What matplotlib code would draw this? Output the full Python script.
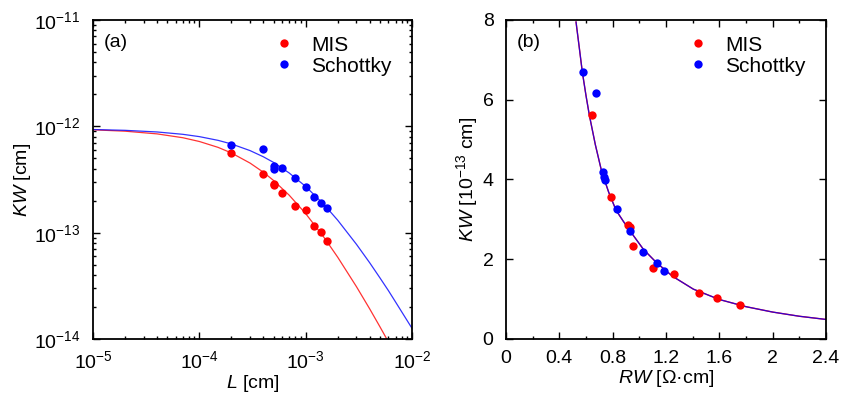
from matplotlib import pyplot as plt
from matplotlib import ticker
import numpy as np

plt.rcParams['font.family'] = ['Liberation Sans', 'DejaVu Sans']
plt.rcParams['mathtext.fontset'] = 'custom'
plt.rcParams['mathtext.rm'] = 'Liberation Sans'
plt.rcParams['mathtext.it'] = 'Liberation Sans:italic'
plt.rcParams['axes.unicode_minus'] = False
plt.rcParams['font.size'] = 14

# measured points (KW in units of 1e-13 cm)
L_mis = [2e-4, 4e-4, 5e-4, 5e-4, 6e-4, 8e-4, 1e-3, 1.2e-3, 1.4e-3, 1.6e-3]
kw_mis = [5.62, 3.57, 2.86, 2.81, 2.34, 1.78, 1.62, 1.16, 1.02, 0.84]
rw_mis = [0.643, 0.785, 0.918, 0.930, 0.950, 1.105, 1.26, 1.45, 1.585, 1.757]

L_sch = [2e-4, 4e-4, 5e-4, 6e-4, 5e-4, 8e-4, 1e-3, 1.2e-3, 1.4e-3, 1.6e-3]
kw_sch = [6.70, 6.16, 4.19, 4.07, 3.98, 3.25, 2.71, 2.17, 1.90, 1.70]
rw_sch = [0.575, 0.673, 0.725, 0.737, 0.745, 0.830, 0.930, 1.025, 1.130, 1.185]

# fitted curves
L_fit = [1e-5, 2e-5, 4e-5, 7e-5, 1e-4, 1.5e-4, 2e-4, 3e-4, 4e-4, 5e-4,
         7e-4, 1e-3, 1.5e-3, 2e-3, 3e-3, 4e-3, 5e-3, 6e-3, 7e-3, 1e-2]
kw_fit_mis = [9.27, 9.00, 8.49, 7.81, 7.20, 6.34, 5.62, 4.51, 3.70, 3.09,
              2.25, 1.51, 0.892, 0.588, 0.311, 0.192, 0.130, 0.0938, 0.070, 0.035]
kw_fit_sch = [9.33, 9.17, 8.85, 8.41, 8.00, 7.38, 6.83, 5.91, 5.17, 4.57,
              3.64, 2.72, 1.82, 1.31, 0.778, 0.521, 0.375, 0.285, 0.223, 0.126]

rw_fit = [0.525, 0.55, 0.572, 0.6, 0.625, 0.67, 0.718, 0.77, 0.825, 0.88, 0.93,
          1.03, 1.13, 1.25, 1.405, 1.6, 1.8, 2.0, 2.2, 2.4]
kw_fit_rw = [7.95, 7.29, 6.70, 6.10, 5.61, 4.87, 4.19, 3.68, 3.23, 2.95, 2.71,
             2.25, 1.91, 1.57, 1.25, 0.99, 0.81, 0.675, 0.57, 0.49]

red = '#ff0000'
blue = '#0000ff'

fig = plt.figure(figsize=(8.41, 3.95), dpi=100)
ax1 = fig.add_axes([0.1106, 0.1418, 0.3793, 0.8076])
ax2 = fig.add_axes([0.6017, 0.1418, 0.3805, 0.8076])

scale = 1e-13
ax1.plot(L_fit, np.array(kw_fit_mis) * scale, color=red, lw=0.9, alpha=0.8)
ax1.plot(L_fit, np.array(kw_fit_sch) * scale, color=blue, lw=0.9, alpha=0.8)
ax1.plot(L_mis, np.array(kw_mis) * scale, 'o', color=red, ms=6, mec='none', label='MIS')
ax1.plot(L_sch, np.array(kw_sch) * scale, 'o', color=blue, ms=6, mec='none', label='Schottky')
ax1.set_xscale('log')
ax1.set_yscale('log')
ax1.set_xlim(1e-5, 1e-2)
ax1.set_ylim(1e-14, 1e-11)
ax1.set_xlabel('$L$ [cm]', labelpad=1)
ax1.set_ylabel('$KW$ [cm]', labelpad=1)
ax1.text(0.033, 0.93, '(a)', transform=ax1.transAxes, va='center', ha='left')

ax2.plot(rw_fit, kw_fit_rw, color=red, lw=1.0)
ax2.plot(rw_fit, kw_fit_rw, color=blue, lw=0.9, alpha=0.8)
ax2.plot(rw_mis, kw_mis, 'o', color=red, ms=6, mec='none', label='MIS')
ax2.plot(rw_sch, kw_sch, 'o', color=blue, ms=6, mec='none', label='Schottky')
ax2.set_xlim(0, 2.4)
ax2.set_ylim(0, 8)
ax2.set_xticks([0, 0.4, 0.8, 1.2, 1.6, 2.0, 2.4])
ax2.xaxis.set_major_formatter(ticker.FuncFormatter(lambda v, p: '%g' % v))
ax2.xaxis.set_minor_locator(ticker.MultipleLocator(0.2))
ax2.set_yticks([0, 2, 4, 6, 8])
ax2.set_xlabel('$RW$ [\u03a9\u00b7cm]', labelpad=1)
ax2.set_ylabel('$KW$ [10$^{-13}$ cm]', labelpad=2)
ax2.text(0.033, 0.93, '(b)', transform=ax2.transAxes, va='center', ha='left')

for ax in (ax1, ax2):
    for s in ax.spines.values():
        s.set_linewidth(1.3)
    ax.tick_params(which='both', direction='in', top=True, right=True, width=1.0,
                   labelsize=14)
    ax.tick_params(which='major', length=5)
    ax.tick_params(axis='x', which='major', pad=8)
    ax.tick_params(axis='y', which='major', pad=9)
    ax.tick_params(which='minor', length=2.5)
    ax.legend(loc='upper right', bbox_to_anchor=(0.975, 0.99), frameon=False,
              handlelength=0.8, handletextpad=0.9, labelspacing=0.1,
              borderaxespad=0.2, fontsize=15)

plt.savefig('out.png', dpi=100)
